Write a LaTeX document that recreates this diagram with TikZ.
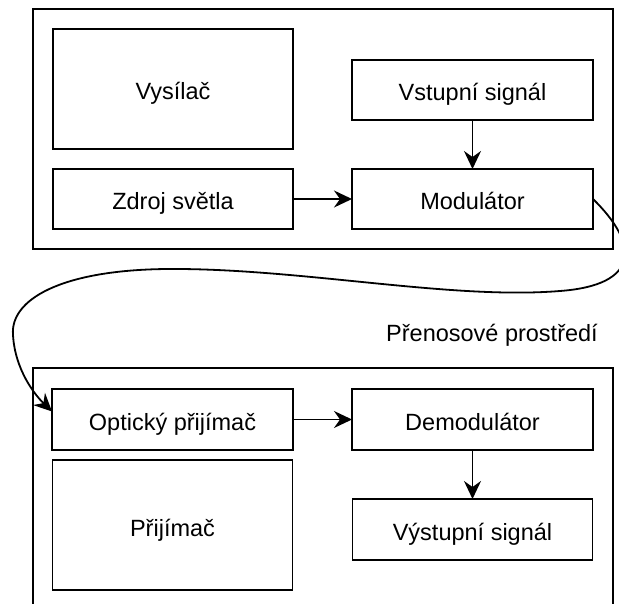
\documentclass[tikz,border=0pt]{standalone}
\usepackage{fontspec}
\setmainfont{Liberation Sans}
\usetikzlibrary{arrows.meta,calc}
\begin{document}
\begin{tikzpicture}[x=1pt,y=-1pt,
  line width=1.8pt,
  every node/.style={font=\fontsize{23.5}{28}\selectfont, text height=22pt, text depth=0pt},
  blk/.style={draw, rectangle, inner sep=0pt, outer sep=0pt},
  conn/.style={-{Stealth[length=18pt,width=17pt,inset=6pt]}},
]
\useasboundingbox (0,0) rectangle (619,604);
% containers
\node[blk, minimum width=580pt, minimum height=240pt] (tx) at (323,129) {};
\draw (33,607) -- (33,368) -- (613,368) -- (613,607);
% transmitter blocks
\node[blk, minimum width=240pt, minimum height=120pt] (vys) at (173,89) {Vysílač};
\node[blk, minimum width=241pt, minimum height=60pt] (vst) at (472.5,90) {Vstupní signál};
\node[blk, minimum width=240pt, minimum height=60pt] (zdr) at (173,199) {Zdroj světla};
\node[blk, minimum width=241pt, minimum height=60pt] (mod) at (472.5,199) {Modulátor};
% receiver blocks
\node[blk, minimum width=241pt, minimum height=61pt] (opt) at (172.5,419.5) {Optický přijímač};
\node[blk, minimum width=241pt, minimum height=61pt] (dem) at (472.5,419.5) {Demodulátor};
\node[blk, minimum width=240pt, minimum height=130pt] (pri) at (172.5,525) {Přijímač};
\node[blk, minimum width=240pt, minimum height=61pt] (vyst) at (472.5,529.5) {Výstupní signál};
% label
\node (med) at (492,330.5) {Přenosové prostředí};
% connectors
\draw[conn] (zdr) -- (mod);
\draw[conn] (vst) -- (mod);
\draw[conn] (opt) -- (dem);
\draw[conn] (dem) -- (vyst);
\draw[conn] (mod.east) .. controls (640,245) and (640,285) .. (560,291)
  .. controls (450,300) and (300,268) .. (167,269)
  .. controls (60,270) and (10,300) .. (13,335)
  .. controls (15,370) and (35,395) .. ([yshift=8pt]opt.west);
\end{tikzpicture}
\end{document}
